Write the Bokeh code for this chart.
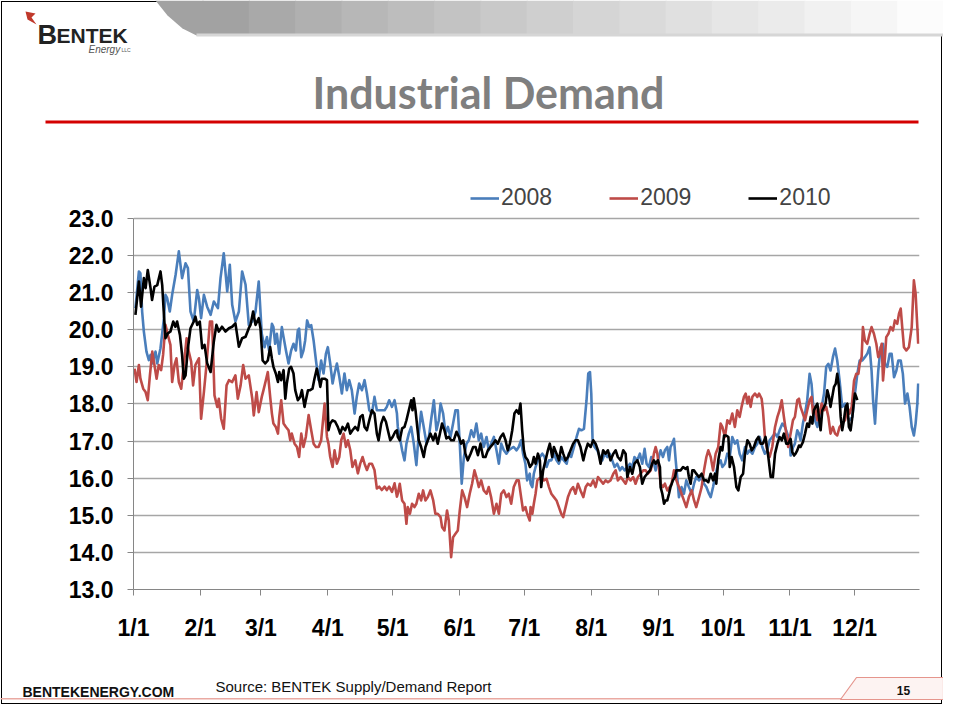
from bokeh.plotting import figure
from bokeh.models import (Range1d, FixedTicker, PrintfTickFormatter, Legend, LegendItem)
from bokeh.layouts import column
from bokeh.core.properties import value
from bokeh.embed import file_html
from bokeh.resources import INLINE

# ---------------- data (day of year, value) ----------------
series_names = ["2008", "2009", "2010"]
series_colors = ["#4a7ebb", "#be4b48", "#000000"]

month_days = [0, 31, 59, 90, 120, 151, 181, 212, 243, 273, 304, 334]
month_labels = ["1/1", "2/1", "3/1", "4/1", "5/1", "6/1", "7/1", "8/1", "9/1", "10/1", "11/1", "12/1"]
y_ticks = [13, 14, 15, 16, 17, 18, 19, 20, 21, 22, 23]

s2008 = [
    (0.9, 20.58), (2.5, 21.57), (3.2, 21.52), (4.0, 20.49), (4.8, 19.95), (6.0, 19.41), (7.1, 19.18),
    (7.9, 19.32), (8.7, 19.09), (10.2, 19.41), (11.0, 19.09), (12.5, 19.50), (14.1, 20.31), (14.8, 20.94),
    (15.6, 20.85), (16.8, 20.49), (17.9, 20.94), (19.5, 21.48), (21.0, 22.11), (22.5, 21.39), (24.1, 21.79),
    (25.2, 21.66), (26.4, 20.49), (27.9, 20.22), (29.5, 21.07), (30.3, 20.85), (31.3, 20.31), (32.6, 20.94),
    (34.1, 20.62), (35.7, 20.40), (37.2, 20.76), (39.1, 20.58), (40.3, 21.39), (41.8, 22.06), (43.4, 21.03),
    (44.6, 21.75), (45.7, 20.67), (47.2, 20.22), (48.8, 20.49), (50.3, 21.57), (51.9, 21.21), (53.4, 20.13),
    (55.0, 20.22), (56.5, 20.49), (58.0, 21.30),
    (59.4, 19.89), (60.7, 19.53), (61.8, 19.80), (62.8, 19.44), (64.1, 20.16), (64.8, 20.07), (65.6, 19.62),
    (66.4, 19.89), (67.5, 19.35), (68.7, 20.07), (69.5, 19.80), (70.6, 19.44), (71.8, 19.09), (73.0, 19.44),
    (74.1, 19.62), (75.2, 19.44), (76.1, 19.98), (76.7, 20.03), (77.7, 19.26), (78.7, 19.44), (79.5, 19.71),
    (80.4, 20.25), (81.4, 20.07), (82.3, 20.12), (83.4, 19.71), (84.5, 19.17), (85.7, 18.64), (86.9, 19.17),
    (88.0, 18.82), (89.1, 19.35), (90.0, 19.53), (91.1, 19.09), (92.2, 18.55), (93.1, 18.82), (94.2, 19.09),
    (95.3, 18.73), (96.5, 18.28), (97.7, 18.82), (98.8, 18.37), (99.9, 18.64), (101.1, 18.37), (102.4, 17.74),
    (103.4, 18.19), (104.5, 18.55), (105.8, 18.37), (107.0, 18.64), (108.1, 18.28), (109.2, 17.83),
    (110.4, 17.74), (111.6, 18.19), (112.7, 17.83), (113.8, 17.83), (115.0, 17.83), (116.3, 17.83),
    (117.3, 17.92), (118.4, 18.10), (119.7, 17.92), (120.9, 18.10), (122.0, 17.74),
    (122.4, 17.38), (123.3, 17.11), (124.4, 16.75), (125.5, 16.48), (126.4, 16.93), (127.5, 17.20),
    (128.6, 17.38), (129.8, 16.93), (131.0, 16.35), (132.1, 17.20), (133.2, 17.79), (134.4, 17.38),
    (135.7, 16.93), (136.8, 17.11), (137.8, 17.56), (139.1, 18.10), (140.3, 17.29), (141.4, 17.56),
    (142.2, 18.01), (143.4, 17.74), (144.5, 17.20), (145.6, 17.38), (146.8, 17.11), (148.0, 17.47),
    (149.1, 17.83), (150.2, 17.83), (151.1, 16.93), (152.0, 15.85), (153.0, 16.57), (154.2, 16.93),
    (155.3, 17.02), (156.4, 17.29), (157.6, 17.11), (158.8, 17.47), (159.9, 17.02), (161.0, 17.20),
    (162.2, 16.84), (163.5, 17.11), (164.5, 16.75), (165.6, 16.93), (166.9, 17.11), (168.1, 16.75),
    (169.2, 16.39), (170.3, 16.93), (171.5, 16.75), (172.7, 16.66), (173.8, 16.75), (174.9, 16.80),
    (176.1, 16.84), (177.4, 16.75), (178.4, 16.84), (179.5, 17.02), (180.4, 16.66), (181.5, 16.39),
    (182.3, 15.94), (183.5, 16.12),
    (183.9, 15.85), (184.7, 15.76), (185.4, 16.12), (186.2, 16.30), (187.3, 16.48), (188.2, 16.57),
    (189.3, 16.66), (190.4, 16.57), (191.3, 16.30), (192.4, 16.48), (193.5, 16.48), (194.7, 16.66),
    (195.9, 16.48), (197.0, 16.39), (198.1, 16.57), (199.3, 16.48), (200.6, 16.39), (201.6, 16.66),
    (202.7, 16.57), (204.0, 16.84), (205.2, 17.11), (206.3, 17.33), (207.4, 17.29), (208.6, 17.33),
    (209.8, 18.10), (210.6, 18.82), (211.4, 18.86), (212.0, 18.28), (212.6, 17.02), (213.5, 16.84),
    (214.8, 16.75), (216.0, 16.57), (217.1, 16.48), (218.2, 16.66), (219.4, 16.57), (220.6, 16.66),
    (221.7, 16.48), (222.8, 16.30), (224.0, 16.39), (225.3, 16.21), (226.3, 16.30), (227.4, 16.21),
    (228.7, 16.30), (229.9, 16.39), (231.0, 16.30), (232.0, 16.57), (233.3, 16.48), (234.5, 16.66),
    (235.6, 16.39), (236.7, 16.79), (237.6, 16.39), (238.7, 16.30), (239.8, 16.57), (240.7, 16.48),
    (241.8, 16.21),
    (243.3, 16.57), (244.1, 16.75), (245.2, 16.57), (246.1, 16.75), (247.2, 16.84), (248.0, 16.48),
    (248.7, 16.84), (249.5, 16.93), (250.3, 17.06), (251.1, 16.48), (251.8, 16.03), (252.6, 15.49),
    (253.8, 15.76), (254.9, 15.58), (256.0, 15.94), (257.2, 15.76), (258.5, 15.58), (259.6, 15.85),
    (260.6, 16.03), (261.9, 15.94), (263.1, 16.03), (264.2, 15.85), (265.3, 15.76), (266.5, 15.58),
    (267.3, 15.49), (268.4, 15.76), (269.6, 16.12), (270.8, 16.39), (271.9, 16.48), (272.7, 16.30),
    (273.9, 16.39), (275.0, 16.66), (276.1, 16.57), (277.3, 17.11), (278.5, 16.93), (279.6, 17.02),
    (280.7, 16.66), (281.9, 16.48), (283.2, 16.84), (284.3, 16.66), (285.3, 16.75), (286.6, 16.66),
    (287.8, 16.84), (288.9, 16.93), (290.0, 17.11), (291.2, 16.84), (292.4, 16.66), (293.5, 16.75),
    (294.6, 17.02), (295.8, 17.11), (297.1, 17.20), (298.2, 17.11), (299.2, 17.29), (300.5, 17.47),
    (301.7, 17.38), (302.8, 17.20), (303.9, 17.02),
    (304.3, 16.61), (305.4, 16.83), (306.3, 16.93), (307.4, 17.29), (308.2, 17.20), (308.9, 17.02),
    (310.0, 17.47), (311.0, 17.74), (312.0, 18.10), (313.1, 18.81), (314.0, 18.54), (314.7, 18.01),
    (315.6, 17.56), (316.7, 17.38), (317.7, 17.65), (318.7, 17.92), (319.8, 18.28), (320.8, 19.00),
    (321.8, 19.08), (322.8, 18.90), (323.9, 19.26), (324.9, 19.49), (325.9, 19.17), (327.0, 18.63),
    (328.2, 17.92), (329.5, 18.01), (330.6, 17.65), (331.6, 17.56), (332.9, 17.65), (334.1, 18.28),
    (335.2, 18.81), (336.3, 19.17), (337.5, 19.17), (338.7, 19.26), (339.8, 19.35), (340.9, 19.53),
    (341.8, 18.90), (342.5, 18.10), (343.4, 17.47), (344.0, 18.10), (344.9, 18.90), (346.0, 19.53),
    (347.1, 19.62), (348.0, 19.08), (349.1, 19.00), (350.2, 19.35), (351.1, 19.35), (352.2, 18.72),
    (353.3, 18.90), (354.2, 19.17), (355.3, 19.17), (356.3, 18.81), (357.3, 18.01), (358.4, 18.28),
    (359.4, 17.92), (360.4, 17.38), (361.4, 17.15), (362.2, 17.47), (363.0, 18.01), (363.4, 18.55),
]

s2009 = [
    (0.5, 18.95), (1.4, 18.59), (2.5, 19.05), (3.2, 18.68), (4.5, 18.41), (5.6, 18.32), (6.6, 18.10),
    (7.6, 18.77), (8.7, 19.41), (9.7, 19.05), (10.7, 18.68), (11.7, 19.05), (12.8, 18.91), (13.7, 19.32),
    (14.8, 20.13), (15.9, 19.86), (17.1, 19.59), (17.9, 18.59), (19.0, 19.05), (19.9, 19.23), (21.0, 18.59),
    (22.1, 18.41), (23.3, 19.05), (24.6, 19.77), (25.6, 19.41), (26.7, 19.14), (27.6, 18.50), (28.7, 19.05),
    (30.3, 19.23), (31.3, 17.60), (32.6, 18.32), (33.8, 19.05), (35.4, 20.22), (36.4, 20.22), (37.5, 18.23),
    (38.8, 17.92), (39.5, 18.14), (40.6, 17.60), (41.8, 17.33), (43.1, 18.50), (44.2, 18.64), (45.7, 18.59),
    (47.2, 18.77), (48.3, 18.14), (49.6, 18.50), (50.8, 19.05), (51.9, 18.68), (53.4, 18.77), (55.0, 18.14),
    (55.7, 17.69), (57.0, 18.32), (58.0, 17.78),
    (59.4, 18.19), (60.2, 18.37), (61.3, 18.64), (62.2, 18.86), (63.3, 18.19), (64.1, 17.74), (64.8, 17.47),
    (65.9, 17.38), (66.9, 17.20), (67.5, 17.65), (68.4, 18.10), (69.5, 17.47), (70.6, 17.38), (71.8, 17.29),
    (72.6, 17.02), (73.3, 17.20), (74.6, 16.93), (75.7, 16.84), (76.7, 16.57), (77.7, 17.20), (78.7, 16.84),
    (79.8, 17.11), (81.1, 17.70), (82.3, 17.29), (83.4, 16.93), (84.5, 16.84), (85.7, 16.84), (86.9, 17.02),
    (88.5, 18.01), (89.6, 17.11), (90.3, 16.93), (91.1, 16.57), (92.2, 16.30), (93.1, 16.75), (94.2, 16.39),
    (95.3, 16.57), (96.2, 17.02), (97.3, 17.20), (98.4, 16.84), (99.3, 17.02), (100.4, 16.75), (101.4, 16.30),
    (102.7, 16.48), (103.9, 16.13), (105.0, 16.39), (106.1, 16.57), (107.0, 16.39), (108.1, 16.22),
    (109.2, 16.39), (110.4, 16.39), (111.6, 16.22), (112.7, 15.72), (113.8, 15.77), (115.0, 15.68),
    (116.3, 15.77), (117.3, 15.68), (118.4, 15.77), (119.7, 15.63), (120.9, 15.86), (122.0, 15.50),
    (122.4, 15.58), (123.3, 15.85), (124.4, 15.40), (125.5, 15.31), (126.4, 14.77), (127.0, 15.22),
    (128.0, 15.04), (129.0, 15.31), (130.1, 15.22), (131.0, 15.31), (132.1, 15.58), (133.2, 15.40),
    (134.1, 15.67), (135.2, 15.40), (136.3, 15.49), (137.5, 15.67), (138.8, 15.40), (139.8, 15.04),
    (140.9, 15.04), (142.2, 14.95), (142.9, 14.68), (144.0, 14.59), (145.2, 15.13), (146.0, 14.86),
    (147.1, 13.87), (148.0, 14.41), (149.1, 14.50), (150.2, 14.59), (151.1, 15.13), (152.2, 15.67),
    (153.3, 15.49), (154.5, 15.22), (155.7, 15.58), (156.8, 15.85), (157.9, 16.21), (158.8, 16.03),
    (159.9, 15.76), (161.0, 15.94), (162.2, 15.67), (163.5, 15.58), (164.5, 15.76), (165.6, 15.49),
    (166.9, 15.04), (168.1, 15.31), (169.2, 15.04), (170.3, 15.58), (171.5, 15.67), (172.7, 15.49),
    (173.8, 15.58), (174.9, 15.31), (176.1, 15.76), (177.4, 15.94), (178.4, 15.94), (179.5, 15.49),
    (180.4, 15.13), (181.5, 15.22), (182.3, 15.04), (183.5, 14.86),
    (183.9, 15.22), (184.7, 15.04), (185.4, 15.31), (186.2, 15.58), (187.0, 15.94), (187.7, 15.98),
    (188.8, 16.03), (190.1, 15.94), (191.3, 15.98), (192.4, 15.76), (193.5, 15.58), (194.7, 15.49),
    (195.9, 15.40), (197.0, 15.22), (198.1, 15.04), (199.0, 14.95), (200.1, 15.22), (201.2, 15.49),
    (202.4, 15.67), (203.6, 15.76), (204.7, 15.58), (205.8, 15.85), (207.0, 15.67), (208.3, 15.49),
    (209.4, 15.76), (210.4, 15.85), (211.7, 15.80), (212.9, 15.94), (214.0, 15.76), (215.1, 16.03),
    (216.3, 15.94), (217.5, 15.85), (218.6, 15.94), (219.7, 15.89), (220.9, 15.94), (222.2, 16.12),
    (223.3, 16.21), (224.3, 15.94), (225.6, 16.03), (226.8, 15.94), (227.9, 15.85), (229.0, 16.03),
    (230.2, 15.94), (231.4, 16.03), (232.5, 15.85), (233.6, 16.03), (234.8, 16.12), (236.1, 16.21),
    (237.2, 16.21), (238.2, 16.12), (239.5, 16.21), (240.2, 16.39), (241.0, 16.66), (241.8, 16.84),
    (242.6, 16.66),
    (244.1, 15.85), (245.2, 15.76), (246.1, 15.85), (247.2, 15.67), (248.3, 15.76), (249.2, 15.85),
    (250.3, 16.21), (251.4, 15.94), (252.6, 15.76), (253.8, 15.58), (254.9, 15.40), (256.0, 15.22),
    (257.2, 15.49), (258.5, 15.67), (259.6, 15.40), (260.6, 15.22), (261.9, 15.49), (263.1, 15.76),
    (264.2, 16.21), (265.3, 16.57), (266.2, 16.75), (267.3, 16.57), (268.4, 16.21), (269.6, 16.66),
    (270.8, 16.84), (271.9, 17.47), (272.7, 17.38), (273.9, 17.11), (275.0, 17.56), (276.1, 17.47),
    (277.3, 17.74), (278.5, 17.38), (279.6, 17.83), (280.7, 17.65), (281.6, 17.92), (282.7, 18.19),
    (283.5, 18.28), (284.3, 18.01), (285.0, 18.19), (285.8, 17.92), (286.6, 18.19), (287.8, 18.28),
    (288.9, 18.19), (289.7, 18.28), (290.9, 18.14), (291.5, 17.83), (292.4, 17.11), (293.5, 16.75),
    (294.6, 16.57), (295.8, 16.84), (297.1, 17.38), (298.2, 17.65), (299.2, 17.83), (300.2, 18.10),
    (301.2, 17.65), (302.3, 17.20), (303.2, 16.84),
    (305.4, 17.56), (306.3, 17.65), (307.4, 18.10), (308.2, 18.14), (308.9, 17.92), (310.0, 17.74),
    (311.0, 17.56), (312.0, 17.83), (313.1, 18.10), (314.0, 18.19), (314.7, 17.74), (315.6, 17.92),
    (316.7, 17.56), (317.7, 17.74), (318.7, 18.01), (319.8, 17.83), (320.8, 17.92), (321.8, 17.65),
    (322.8, 17.20), (323.9, 17.38), (324.9, 17.20), (325.9, 17.15), (327.0, 17.38), (328.2, 17.47),
    (329.5, 17.56), (330.6, 17.92), (331.6, 17.74), (332.6, 17.92), (333.7, 18.63), (334.7, 18.81),
    (335.7, 18.81), (336.3, 19.08), (337.2, 19.26), (337.8, 20.07), (338.7, 19.71), (339.8, 19.62),
    (340.9, 19.89), (341.8, 20.07), (342.9, 19.89), (344.0, 19.62), (344.9, 19.26), (345.5, 19.35),
    (346.5, 19.62), (347.1, 18.63), (348.0, 19.26), (348.6, 19.80), (349.6, 19.89), (350.6, 20.07),
    (351.7, 19.98), (352.6, 20.25), (353.7, 20.16), (354.5, 20.43), (355.3, 20.57), (356.0, 20.07),
    (356.8, 19.53), (357.9, 19.44), (359.1, 19.53), (360.4, 20.07), (361.4, 21.33), (362.2, 20.97),
    (363.0, 20.07), (363.4, 19.62),
]

s2010 = [
    (0.9, 20.40), (2.5, 21.30), (3.5, 20.62), (4.8, 21.39), (5.6, 21.12), (6.6, 21.61), (7.9, 21.12),
    (8.6, 20.80), (9.7, 21.16), (11.0, 21.20), (12.5, 21.57), (13.3, 21.20), (14.0, 20.49), (14.8, 19.77),
    (15.9, 19.90), (17.1, 19.95), (18.4, 20.22), (19.4, 20.08), (20.2, 20.22), (21.5, 19.86), (22.5, 19.32),
    (23.3, 18.68), (24.1, 18.77), (25.2, 19.50), (26.4, 20.04), (27.9, 20.22), (28.7, 20.35), (29.5, 20.13),
    (30.7, 20.22), (31.8, 19.50), (32.9, 19.59), (34.1, 19.10), (35.7, 18.86), (37.2, 19.68), (38.4, 20.13),
    (39.5, 19.95), (41.0, 20.08), (42.6, 19.95), (44.2, 20.04), (45.7, 20.08), (47.2, 20.17), (48.8, 19.54),
    (50.3, 19.77), (51.9, 19.81), (53.4, 20.04), (54.2, 20.13), (55.4, 20.49), (56.5, 20.13), (58.0, 20.31),
    (58.8, 20.04),
    (59.8, 19.17), (61.0, 19.09), (62.2, 19.17), (63.3, 19.53), (64.1, 19.22), (64.8, 19.00), (65.9, 18.82),
    (66.9, 18.59), (67.5, 18.86), (68.4, 18.64), (69.5, 18.91), (70.3, 18.14), (71.0, 18.55), (72.1, 18.95),
    (73.0, 19.00), (74.1, 18.82), (74.9, 18.37), (76.1, 18.10), (77.2, 18.19), (78.0, 18.37), (79.2, 17.92),
    (79.8, 18.10), (80.8, 18.37), (81.8, 18.37), (82.9, 18.41), (83.8, 18.68), (84.9, 18.95), (85.7, 18.73),
    (86.5, 18.46), (87.2, 18.68), (88.5, 18.68), (89.6, 18.64), (90.3, 17.29), (91.1, 17.47), (92.2, 17.56),
    (93.4, 17.52), (94.6, 17.38), (95.7, 17.20), (96.8, 17.38), (98.0, 17.29), (99.3, 17.47), (100.4, 17.20),
    (101.4, 17.29), (102.7, 17.38), (103.9, 17.29), (105.0, 17.65), (106.1, 17.70), (107.0, 17.38),
    (108.1, 17.29), (109.2, 17.56), (110.4, 17.83), (111.6, 17.74), (112.7, 17.20), (113.5, 17.02),
    (114.7, 17.47), (115.8, 17.65), (116.9, 17.52), (117.8, 17.29), (118.9, 17.02), (120.0, 17.11),
    (121.2, 17.25), (122.0, 17.29),
    (122.4, 17.11), (123.3, 17.02), (124.4, 17.34), (125.5, 17.38), (126.4, 17.56), (127.5, 17.83),
    (128.6, 18.10), (129.2, 17.83), (129.8, 18.15), (130.6, 17.83), (131.4, 17.38), (132.1, 17.02),
    (133.2, 16.84), (134.4, 16.57), (135.2, 16.84), (136.3, 17.02), (137.5, 17.20), (138.8, 17.02),
    (139.8, 17.20), (140.9, 16.93), (141.9, 17.20), (142.9, 17.47), (144.0, 17.29), (144.9, 17.07),
    (146.0, 17.11), (147.1, 17.02), (148.3, 17.02), (149.6, 17.25), (150.7, 17.11), (151.7, 16.93),
    (152.7, 17.02), (153.7, 16.66), (154.8, 16.48), (156.1, 16.66), (157.3, 16.84), (158.4, 16.84),
    (159.5, 16.62), (160.7, 16.93), (161.9, 16.57), (163.0, 16.57), (164.1, 16.75), (165.3, 16.84),
    (166.6, 16.93), (167.6, 17.02), (168.7, 16.93), (170.0, 17.11), (171.2, 17.20), (172.3, 17.02),
    (173.3, 16.75), (174.3, 16.93), (175.4, 17.29), (176.4, 17.74), (177.4, 17.83), (178.4, 17.74),
    (179.2, 18.01), (180.0, 17.29), (180.8, 16.75), (181.5, 16.57),
    (182.6, 16.48), (183.6, 16.30), (184.7, 16.39), (185.4, 16.57), (186.2, 16.39), (187.3, 16.66),
    (188.2, 16.48), (188.8, 15.76), (189.7, 16.21), (190.8, 16.48), (191.9, 16.75), (192.8, 16.93),
    (193.9, 16.57), (194.7, 16.84), (195.9, 16.66), (197.0, 16.48), (198.1, 16.84), (199.0, 16.66),
    (200.1, 16.48), (201.2, 16.57), (202.4, 16.75), (203.6, 16.93), (204.7, 17.02), (205.8, 17.02),
    (207.0, 16.84), (208.3, 16.48), (209.4, 16.75), (210.4, 16.93), (211.7, 16.84), (212.9, 17.02),
    (214.0, 16.93), (215.1, 16.75), (216.3, 16.39), (217.5, 16.75), (218.6, 16.66), (219.7, 16.75),
    (220.9, 16.48), (222.2, 16.66), (223.3, 16.75), (224.3, 16.57), (225.6, 16.48), (226.8, 16.75),
    (227.9, 16.66), (228.7, 16.03), (229.9, 16.30), (231.0, 16.12), (232.0, 16.39), (233.3, 16.48),
    (234.5, 16.30), (235.6, 15.85), (236.7, 16.03), (237.9, 16.12), (239.2, 16.21), (240.2, 16.39),
    (241.0, 16.48), (241.8, 16.39), (242.9, 16.48), (243.8, 16.30),
    (244.1, 15.76), (244.9, 15.58), (245.7, 15.31), (246.4, 15.40), (247.2, 15.40), (248.0, 15.58),
    (248.7, 15.76), (249.8, 15.94), (250.8, 16.03), (251.4, 16.21), (252.3, 16.21), (253.4, 16.21),
    (254.5, 16.30), (255.7, 16.25), (256.5, 16.30), (257.2, 16.03), (258.0, 15.85), (258.8, 16.21),
    (259.6, 16.21), (260.6, 16.12), (261.9, 16.03), (263.1, 16.12), (264.2, 15.94), (265.3, 15.94),
    (266.2, 15.89), (267.3, 16.12), (268.4, 15.94), (269.3, 16.12), (269.9, 15.85), (270.8, 16.48),
    (271.9, 16.84), (272.7, 16.75), (273.5, 17.15), (274.5, 17.15), (275.5, 17.11), (276.1, 16.30),
    (277.0, 16.57), (278.1, 16.30), (279.2, 15.76), (280.1, 15.67), (281.2, 16.03), (282.3, 16.12),
    (283.2, 16.66), (284.3, 17.02), (285.3, 16.93), (286.3, 16.75), (287.3, 16.84), (288.4, 17.02),
    (289.4, 17.11), (290.4, 16.93), (291.5, 16.93), (292.7, 17.11), (294.0, 16.57), (295.1, 16.03),
    (296.1, 16.03), (297.1, 16.66), (298.2, 16.93), (299.2, 17.11), (300.2, 17.02), (301.2, 17.20),
    (302.3, 16.93), (303.2, 16.93), (304.3, 17.06),
    (305.1, 16.70), (305.9, 16.61), (306.6, 16.66), (307.4, 16.75), (308.2, 16.88), (308.9, 16.84),
    (310.0, 16.97), (311.0, 17.20), (312.0, 17.47), (312.8, 17.38), (313.6, 17.65), (314.4, 17.47),
    (315.1, 17.83), (315.9, 17.92), (316.7, 18.01), (317.4, 17.65), (318.2, 17.29), (319.0, 17.83),
    (319.8, 17.92), (320.5, 18.01), (321.3, 18.37), (322.1, 18.19), (322.8, 17.92), (323.6, 18.19),
    (324.4, 18.46), (325.2, 18.54), (325.9, 18.81), (326.7, 18.46), (327.5, 17.65), (328.2, 17.29),
    (329.0, 17.56), (329.8, 17.92), (330.6, 18.01), (331.3, 17.38), (332.1, 17.29), (332.9, 17.65),
    (333.7, 18.10), (334.1, 18.28), (334.7, 18.19), (335.2, 18.10),
]
all_series = [s2008, s2009, s2010]

W = 943
HDR_H, MAIN_H, FTR_H = 180, 469, 56


def blank(h, y0):
    f = figure(width=W, height=h, output_backend="svg", toolbar_location=None,
               x_range=Range1d(0, W), y_range=Range1d(y0 + h, y0),
               x_axis_type=None, y_axis_type=None, min_border=0,
               background_fill_color=None, border_fill_color=None)
    f.outline_line_color = None
    f.grid.visible = False
    f.frame_align = False
    return f


def txt(f, x, y, s, size, font="Liberation Sans", style="normal", color="#111111", align="left"):
    f.text(x=[x], y=[y], text=[s], text_font=value(font), text_font_style=style,
           text_font_size=size, text_color=color, text_align=align, text_baseline="middle")


# ---------------- header: banner, logo, title ----------------
hdr = blank(HDR_H, 0)
hdr.patch([155, 203, 203, 196, 182, 167], [0, 0, 35, 35, 28, 15], fill_color="#a2a2a2", line_color=None)
nb = 16
bw = (W - 202) / nb
band_left = [202 + i * bw for i in range(nb)]
band_right = [x + bw + 1 for x in band_left]
band_cols = ["#%02x%02x%02x" % ((g,) * 3) for g in [int(162 + (252 - 162) * (i / (nb - 1)) ** 0.9) for i in range(nb)]]
hdr.quad(left=band_left, right=band_right, top=[0] * nb, bottom=[35] * nb,
         fill_color=band_cols, line_color=None)
hdr.quad(left=[196], right=[W], top=[33], bottom=[36], fill_color="#d6d6d6", line_color=None)

hdr.patch([25, 35, 31, 36, 27], [11, 13, 17, 24, 19], fill_color="#c0392b", line_color=None)
txt(hdr, 37, 34, "B", "27px", style="bold", color="#222222")
txt(hdr, 56, 35, "ENTEK", "21px", style="bold", color="#222222")
txt(hdr, 88, 49, "Energy", "10px", style="italic", color="#555555")
txt(hdr, 121, 49, "LLC", "5px", color="#555555")

txt(hdr, 488, 92, "Industrial Demand", "43px", font="Lato", style="bold", color="#7f7f7f", align="center")
hdr.quad(left=[45], right=[918], top=[120], bottom=[123], fill_color="#d40000", line_color=None)

# ---------------- main chart ----------------
p = figure(width=W, height=MAIN_H, output_backend="svg", toolbar_location=None,
           x_range=Range1d(0, 364), y_range=Range1d(13, 24.02),
           min_border_left=133, min_border_right=24, min_border_top=0, min_border_bottom=60,
           background_fill_color=None, border_fill_color=None)
p.outline_line_color = None
p.frame_align = False

p.xaxis.ticker = FixedTicker(ticks=month_days)
p.xaxis.major_label_overrides = {d: l for d, l in zip(month_days, month_labels)}
p.yaxis.ticker = FixedTicker(ticks=y_ticks)
p.yaxis.formatter = PrintfTickFormatter(format="%.1f")
p.yaxis.bounds = (13, 23)
for ax in (p.xaxis[0], p.yaxis[0]):
    ax.axis_line_color = "#868686"
    ax.axis_line_width = 1
    ax.major_tick_line_color = "#868686"
    ax.major_tick_out = 6
    ax.major_tick_in = 0
    ax.minor_tick_line_color = None
    ax.major_label_text_font = "Liberation Sans"
    ax.major_label_text_font_style = "bold"
    ax.major_label_text_font_size = "23px"
    ax.major_label_text_color = "#000000"
p.xaxis.major_label_standoff = 19
p.yaxis.major_label_standoff = 14
p.xgrid.visible = False
p.ygrid.grid_line_color = "#a6a6a6"
p.ygrid.grid_line_width = 1.5

renderers = []
for s, c in zip(all_series, series_colors):
    d = [t[0] for t in s]
    v = [t[1] for t in s]
    renderers.append(p.line(d, v, line_color=c, line_width=2.6, line_join="round"))

legend = Legend(items=[LegendItem(label=n, renderers=[r]) for n, r in zip(series_names, renderers)],
                orientation="horizontal", location=(337, 378),
                border_line_color=None, background_fill_alpha=0,
                label_text_font="Liberation Sans", label_text_font_size="23px",
                glyph_width=29, glyph_height=20, label_standoff=2, spacing=57,
                padding=0, margin=0)
p.add_layout(legend)

# ---------------- footer ----------------
ftr = blank(FTR_H, HDR_H + MAIN_H)
txt(ftr, 22, 691, "BENTEKENERGY.COM", "14px", style="bold")
txt(ftr, 215, 686, "Source: BENTEK Supply/Demand Report", "15px")
ftr.quad(left=[0], right=[842], top=[697.5], bottom=[699], fill_color="#eaa9a2", line_color=None)
ftr.patch([840, 856, W, W], [699, 677, 677, 699], fill_color="#fdf3f2", line_color="#e5958d", line_width=1.2)
txt(ftr, 903, 690, "15", "12px", style="bold", align="center")

layout = column(hdr, p, ftr, spacing=0,
                styles={"outline": "1.5px solid #000000", "outline-offset": "-2px"})
open("out.html", "w").write(file_html(layout, INLINE))
